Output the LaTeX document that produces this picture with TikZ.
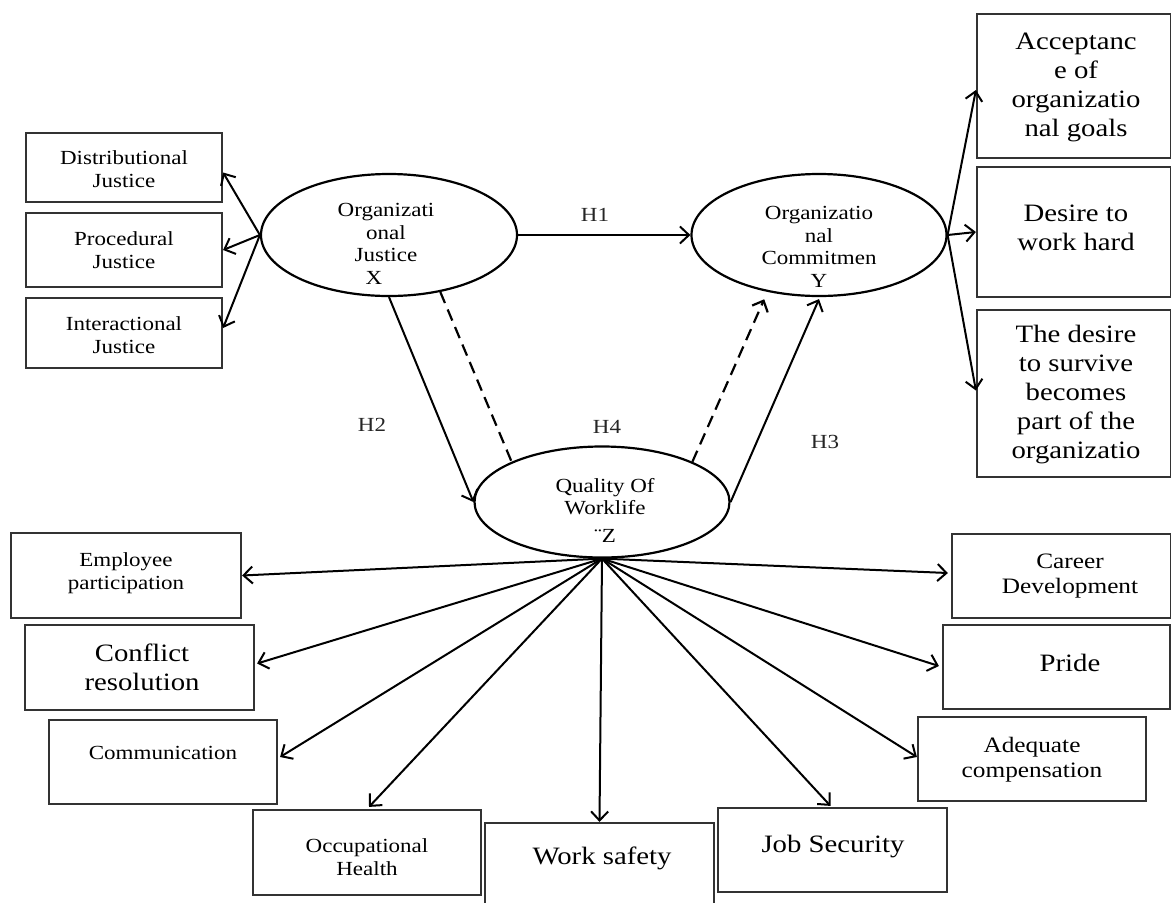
\documentclass[tikz,border=0pt]{standalone}
\usepackage{fontspec}
\setmainfont{Liberation Serif}[FakeStretch=1.15]
\usetikzlibrary{arrows.meta,calc,shapes.geometric}
\begin{document}
\begin{tikzpicture}[x=1pt,y=-1pt,
  box/.style={draw=black!80, line width=2.2pt, rectangle, inner sep=0pt},
  ell/.style={draw=black, line width=2.2pt, ellipse, inner sep=0pt},
  st/.style={font=\fontsize{20}{23}\selectfont, align=center, inner sep=0pt, text=black},
  mt/.style={font=\fontsize{22}{25}\selectfont, align=center, inner sep=0pt, text=black},
  bt/.style={font=\fontsize{25}{29}\selectfont, align=center, inner sep=0pt, text=black},
  et/.style={font=\fontsize{20}{22.5}\selectfont, align=center, inner sep=0pt, text=black},
  hl/.style={font=\fontsize{20}{22}\selectfont, inner sep=0pt, text=black!85},
  arr/.style={line width=2pt, -{Straight Barb[length=9pt,width=17pt]}},
  dsh/.style={line width=2.2pt, dash pattern=on 12pt off 7pt}]
\useasboundingbox (0,0) rectangle (1171,903);
\fill[white] (0,0) rectangle (1171,903);

% ellipses
\node[ell, minimum width=256pt, minimum height=122pt] (X) at (389,235) {};
\node[ell, minimum width=255pt, minimum height=122pt] (Y) at (819,235) {};
\node[ell, minimum width=255pt, minimum height=111pt] (Z) at (602,502) {};
\node[et] (XT) at (386,244) {Organizati\\onal\\Justice\\X\hspace*{24pt}};
\node[et] (YT) at (819,247) {Organizatio\\nal\\Commitmen\\Y};
\node[et] (ZT) at (605,510) {Quality Of\\Worklife\\[5pt]¨Z};

% left top boxes
\node[box, minimum width=196pt, minimum height=69pt] (dist) at (124,167.5) {};
\node[box, minimum width=196pt, minimum height=74pt] (proc) at (124,250) {};
\node[box, minimum width=196pt, minimum height=70pt] (inter) at (124,333) {};
\node[st] (distT) at (124,169) {Distributional\\Justice};
\node[st] (procT) at (124,250) {Procedural\\Justice};
\node[st] (interT) at (124,335) {Interactional\\Justice};

% right top boxes
\node[box, minimum width=194pt, minimum height=144pt] (acc) at (1074,86) {};
\node[box, minimum width=194pt, minimum height=130pt] (des) at (1074,232) {};
\node[box, minimum width=194pt, minimum height=167pt] (surv) at (1074,393.5) {};
\node[bt] (accT) at (1076,87) {Acceptanc\\e of\\organizatio\\nal goals};
\node[bt] (desT) at (1076,228) {Desire to\\work hard};
\node[bt] (survT) at (1076,395) {The desire\\to survive\\becomes\\part of the\\organizatio};

% bottom boxes
\node[box, minimum width=230pt, minimum height=85pt] (emp) at (126,575.5) {};
\node[box, minimum width=229pt, minimum height=85pt] (conf) at (139.5,667.5) {};
\node[box, minimum width=228pt, minimum height=84pt] (comm) at (163,762) {};
\node[box, minimum width=228pt, minimum height=85pt] (occ) at (367,852.5) {};
\node[box, minimum width=229pt, minimum height=110pt] (ws) at (599.5,878) {};
\node[box, minimum width=229pt, minimum height=84pt] (js) at (832.5,850) {};
\node[box, minimum width=228pt, minimum height=84pt] (adq) at (1032,759) {};
\node[box, minimum width=227pt, minimum height=84pt] (pride) at (1056.5,667) {};
\node[box, minimum width=219pt, minimum height=84pt] (car) at (1061.5,576) {};
\node[st] (empT) at (126,573) {Employee\\participation};
\node[bt] (confT) at (142,667) {Conflict\\resolution};
\node[st] (commT) at (163,753) {Communication};
\node[st] (occT) at (367,857) {Occupational\\Health};
\node[bt] (wsT) at (602,858) {Work safety};
\node[bt] (jsT) at (833,847) {Job Security};
\node[mt] (adqT) at (1032,760) {Adequate\\compensation};
\node[bt] (prideT) at (1070,663) {Pride};
\node[mt] (carT) at (1070,576) {Career\\Development};

% hypothesis labels
\node[hl] (h1) at (595,215) {H1};
\node[hl] (h2) at (372,425) {H2};
\node[hl] (h4) at (607,427) {H4};
\node[hl] (h3) at (825,442) {H3};

% connectors X
\draw[arr] (X.west) -- ($(dist.east)+(0,5)$);
\draw[arr] (X.west) -- (proc.east);
\draw[arr] (X.west) -- ($(inter.east)+(0,-5)$);
\draw[arr] (X.east) -- (Y.west);
\draw[arr] (X.south) -- (Z.west);
\draw[dsh] (X.-48) -- (Z.156);
\draw[arr, dsh] (Z.24) -- ($(Y.-131)+(-5,7)$);
\draw[arr] (Z.east) -- ($(Y.south)+(0,2)$);

% connectors Y
\draw[arr] (Y.east) -- ($(acc.west)+(0,4)$);
\draw[arr] (Y.east) -- (des.west);
\draw[arr] (Y.east) -- ($(surv.west)+(0,-3)$);

% connectors Z
\draw[arr] (Z.south) -- (emp.east);
\draw[arr] (Z.south) -- ($(conf.east)+(2,-4)$);
\draw[arr] (Z.south) -- ($(comm.east)+(2,-5)$);
\draw[arr] (Z.south) -- ($(occ.north)+(2,-2)$);
\draw[arr] (Z.south) -- (ws.north);
\draw[arr] (Z.south) -- ($(js.north)+(-2,-1)$);
\draw[arr] (Z.south) -- ($(adq.west)+(0,-2)$);
\draw[arr] (Z.south) -- ($(pride.west)+(-3,-1)$);
\draw[arr] (Z.south) -- ($(car.west)+(-3,-3)$);
\end{tikzpicture}
\end{document}
